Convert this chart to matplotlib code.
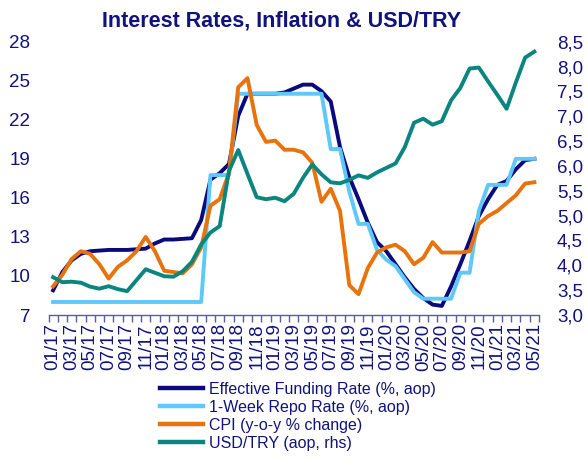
import numpy as np
import matplotlib.pyplot as plt
from matplotlib.lines import Line2D

plt.rcParams['font.family'] = ['Liberation Sans', 'DejaVu Sans']

# months 01/17 .. 05/21
months = [f"{m:02d}/{y}" for y in range(17, 22) for m in range(1, 13)][:53]

funding_rate = [8.9, 10.3, 11.2, 11.7, 11.9, 11.95, 12.0, 12.0, 12.0, 12.05, 12.1, 12.5,
                12.8, 12.8, 12.85, 12.9, 14.3, 17.4, 17.9, 18.6, 22.3, 24.0, 24.0, 24.0,
                24.0, 24.1, 24.4, 24.7, 24.7, 24.2, 23.4, 19.9, 17.6, 15.9, 14.1, 12.6,
                11.9, 10.9, 9.9, 9.0, 8.3, 7.8, 7.7, 9.2, 10.9, 12.7, 14.6, 15.9,
                17.0, 17.3, 18.2, 18.9, 19.0]

repo_rate = [8.0] * 17 + [17.75, 17.75, 17.75] + [24.0] * 10 + \
            [19.75, 19.75, 16.5, 14.0, 14.0, 12.0, 11.25, 10.75, 9.75, 8.75,
             8.25, 8.25, 8.25, 8.25, 10.25, 10.25, 15.0, 17.0, 17.0, 17.0, 19.0, 19.0, 19.0]

cpi = [9.2, 10.1, 11.3, 11.9, 11.7, 10.9, 9.8, 10.7, 11.2, 11.9, 13.0, 11.9,
       10.4, 10.3, 10.2, 10.9, 12.2, 15.4, 15.9, 17.9, 24.5, 25.2, 21.6, 20.3,
       20.4, 19.7, 19.7, 19.5, 18.7, 15.7, 16.7, 15.0, 9.3, 8.6, 10.6, 11.8,
       12.2, 12.4, 11.9, 10.9, 11.4, 12.6, 11.8, 11.8, 11.8, 11.9, 14.0, 14.6,
       15.0, 15.6, 16.2, 17.1, 17.2]

usdtry = [3.76, 3.66, 3.67, 3.65, 3.57, 3.53, 3.58, 3.52, 3.48, 3.70, 3.92, 3.85,
          3.78, 3.77, 3.88, 4.07, 4.42, 4.66, 4.79, 5.90, 6.32, 5.84, 5.37, 5.33,
          5.36, 5.29, 5.44, 5.76, 6.03, 5.83, 5.67, 5.65, 5.72, 5.81, 5.76, 5.87,
          5.96, 6.05, 6.38, 6.87, 6.95, 6.83, 6.90, 7.32, 7.57, 7.96, 7.98, 7.70,
          7.43, 7.15, 7.68, 8.18, 8.30]

labels = ["Effective Funding Rate (%, aop)", "1-Week Repo Rate (%, aop)",
          "CPI (y-o-y % change)", "USD/TRY (aop, rhs)"]
colors = ["#0a0a7d", "#5ec8f8", "#e8720c", "#0b8580"]
txt = "#12127f"

fig = plt.figure(figsize=(5.87, 4.59), dpi=100)
ax = fig.add_axes([48.5 / 587, 1 - 315 / 459, (539 - 48.5) / 587, (315 - 41.7) / 459])
ax2 = ax.twinx()

x = np.arange(len(months))
lw = 2.8
ax.plot(x, funding_rate, color=colors[0], lw=lw, solid_joinstyle='round')
ax.plot(x, repo_rate, color=colors[1], lw=lw, solid_joinstyle='round')
ax.plot(x, cpi, color=colors[2], lw=lw, solid_joinstyle='round')
ax2.plot(x, usdtry, color=colors[3], lw=lw, solid_joinstyle='round')

ax.set_xlim(-0.5, len(months) - 0.5)
ax.set_ylim(7, 28)
ax2.set_ylim(3.0, 8.5)
ax.set_yticks(np.arange(7, 29, 3))
r_ticks = np.arange(3.0, 8.51, 0.5)
ax2.set_yticks(r_ticks)
ax2.set_yticklabels([f"{v:.1f}".replace('.', ',') for v in r_ticks])

ax.set_xticks(x[::2])
ax.set_xticklabels(months[::2], rotation=90, fontsize=13.5, color=txt)
ax.set_xticks(np.arange(-0.5, len(months), 1), minor=True)
ax.tick_params(axis='x', which='major', length=0, pad=6)
ax.tick_params(axis='x', which='minor', length=5, width=1, color="#5a5aa6", direction='out')

ax.tick_params(axis='y', length=0, labelsize=13.5, labelcolor=txt, pad=13)
ax2.tick_params(axis='y', length=0, labelsize=13.5, labelcolor=txt, pad=13)

for a in (ax, ax2):
    for s in ('top', 'left', 'right', 'bottom'):
        a.spines[s].set_visible(False)
ax.spines['bottom'].set_visible(True)
ax.spines['bottom'].set_color("#5a5aa6")
ax.spines['bottom'].set_linewidth(1)

fig.text(0.48, 1 - 20.7 / 459, "Interest Rates, Inflation & USD/TRY", ha='center', va='center',
         fontsize=15.5, fontweight='bold', color=txt)

handles = [Line2D([0], [0], color=c, lw=3.2) for c in colors]
fig.legend(handles, labels, loc='upper left', bbox_to_anchor=(160 / 587, 1 - 382 / 459),
           frameon=False, fontsize=11.5, handlelength=2.7, handletextpad=0.35,
           labelspacing=0.18, borderpad=0, borderaxespad=0, labelcolor=txt)

fig.savefig("out.png", dpi=100)
